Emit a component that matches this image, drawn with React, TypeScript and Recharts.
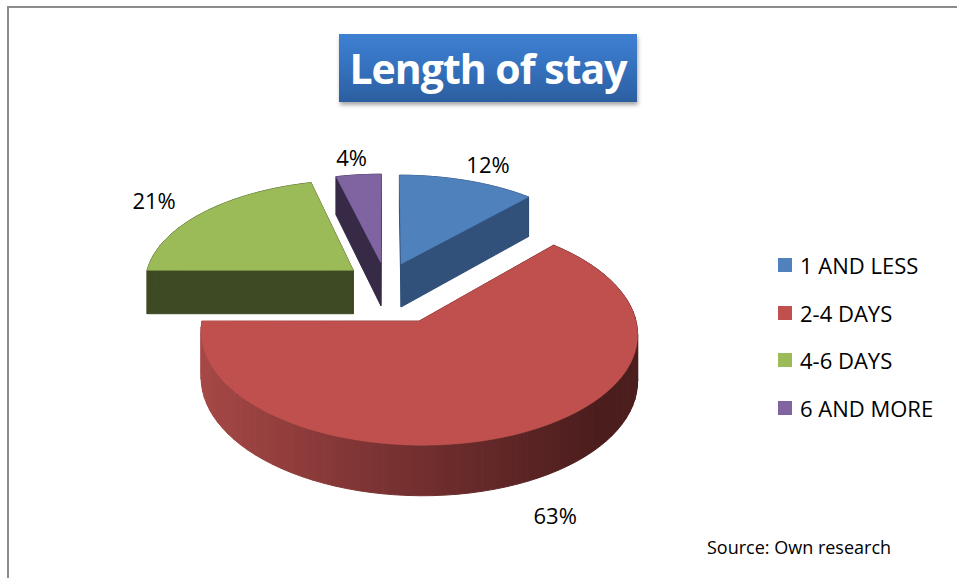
import React from 'react';
import { PieChart, Pie, Cell, Legend } from 'recharts';

const categories = ['1 AND LESS', '2-4 DAYS', '4-6 DAYS', '6 AND MORE'];
const shares = [12, 63, 21, 4];

const topColors = ['#4f81bd', '#c0504d', '#9bbb59', '#8064a2'];
const sideColors = ['#31507a', 'url(#redSide)', '#3e4a23', '#372a47'];
// how far each slice is pulled out of the pie
const explode = [42, 80, 42, 42];

const data = categories.map((name, i) => ({ name, value: shares[i] }));

const FONT = "'Open Sans', 'Noto Sans', sans-serif";
const K = 0.5; // vertical squash of the tilted disc
const PERSP = 0.11; // front looks a little bigger than the back
const DEPTH = 44;
const LABEL_GAP = 50;
const LABEL_STRETCH = 1.08;

type Pt = [number, number];

const project = (cx: number, cy: number, R: number, u: number, v: number, h: number): Pt => {
    const s = 1 + (PERSP * v) / R;
    return [cx + u * s, cy + v * K * s + h * s];
};

const wedge = (cx: number, cy: number, R: number, a0: number, a1: number, eu: number, ev: number, h: number) => {
    const pts: Pt[] = [project(cx, cy, R, eu, ev, h)];
    const n = Math.max(2, Math.ceil(Math.abs(a1 - a0) / 3));
    for (let i = 0; i <= n; i++) {
        const a = ((a0 + ((a1 - a0) * i) / n) * Math.PI) / 180;
        pts.push(project(cx, cy, R, eu + R * Math.cos(a), ev - R * Math.sin(a), h));
    }
    return pts;
};

const toPath = (pts: Pt[]) => 'M' + pts.map(p => `${p[0].toFixed(2)},${p[1].toFixed(2)}`).join('L') + 'Z';

const renderSlice = (props: any) => {
    const { cx, cy, outerRadius: R, startAngle, endAngle, midAngle, index, percent } = props;
    const m = (midAngle * Math.PI) / 180;
    const e = explode[index];
    const eu = e * Math.cos(m);
    const ev = -e * Math.sin(m);

    const top = wedge(cx, cy, R, startAngle, endAngle, eu, ev, 0);
    const bottom = wedge(cx, cy, R, startAngle, endAngle, eu, ev, DEPTH);
    const quads: string[] = [];
    for (let i = 0; i < top.length; i++) {
        const j = (i + 1) % top.length;
        quads.push(toPath([top[i], top[j], bottom[j], bottom[i]]));
    }

    // label position outside the slice
    const lr = R + e + LABEL_GAP;
    const lv = -lr * Math.sin(m);
    const [lx, ly] = project(cx, cy, R, lr * Math.cos(m) * LABEL_STRETCH, lv, lv > 0 ? DEPTH : 0);
    const side = sideColors[index];

    return (
        <g key={`slice-${index}`}>
            {index === 1 && (
                <defs>
                    <linearGradient id="redSide" gradientUnits="userSpaceOnUse" x1={cx - R * 0.9} y1={0} x2={cx + R} y2={0}>
                        <stop offset="0%" stopColor="#a64846" />
                        <stop offset="45%" stopColor="#7c3333" />
                        <stop offset="100%" stopColor="#4c1d1d" />
                    </linearGradient>
                </defs>
            )}
            {quads.map((d, j) => (
                <path key={j} d={d} fill={side} stroke={side} strokeWidth={1} strokeLinejoin="round" />
            ))}
            <path d={toPath(top)} fill={topColors[index]} stroke={topColors[index]} strokeWidth={0.5} />
            <text
                x={lx}
                y={ly}
                textAnchor="middle"
                dominantBaseline="central"
                fontFamily={FONT}
                fontSize={22}
                fill="#000"
            >
                {`${Math.round(percent * 100)}%`}
            </text>
        </g>
    );
};

const renderLegend = () => (
    <div style={{ fontFamily: FONT, fontSize: 22, color: '#000' }}>
        {categories.map((c, i) => (
            <div key={c} style={{ display: 'flex', alignItems: 'center', height: 47.7 }}>
                <span style={{ width: 14, height: 14, background: topColors[i], marginRight: 8, display: 'inline-block' }} />
                <span>{c}</span>
            </div>
        ))}
    </div>
);

const App: React.FC = () => {
    return (
        <div style={{ position: 'absolute', left: 0, top: 0, width: 957, height: 578, overflow: 'hidden', background: '#fff' }}>
            <div
                style={{
                    position: 'absolute',
                    left: 7,
                    top: 6,
                    width: 1000,
                    height: 700,
                    borderTop: '2px solid #8c8c8c',
                    borderLeft: '2px solid #8c8c8c',
                }}
            />
            <PieChart width={957} height={578} margin={{ top: 0, right: 0, bottom: 0, left: 0 }}>
                <Pie
                    data={data}
                    dataKey="value"
                    nameKey="name"
                    cx={386}
                    cy={283}
                    outerRadius={209}
                    startAngle={90}
                    endAngle={-270}
                    stroke="none"
                    label={renderSlice}
                    labelLine={false}
                    isAnimationActive={false}
                >
                    {data.map((d, i) => (
                        <Cell key={d.name} fill={topColors[i]} fillOpacity={0} />
                    ))}
                </Pie>
                <Legend
                    layout="vertical"
                    align="right"
                    verticalAlign="middle"
                    content={renderLegend}
                    wrapperStyle={{ left: 778, top: 241, width: 180, right: 'auto' }}
                />
            </PieChart>
            <div
                style={{
                    position: 'absolute',
                    left: 339,
                    top: 34,
                    width: 298,
                    height: 68,
                    background: 'linear-gradient(180deg, #3f80d2 0%, #3471bd 50%, #2c5e9f 100%)',
                    boxShadow: '1px 3px 4px rgba(0,0,0,0.35)',
                    color: '#fff',
                    fontFamily: FONT,
                    fontWeight: 700,
                    fontSize: 41,
                    letterSpacing: -1,
                    display: 'flex',
                    alignItems: 'center',
                    justifyContent: 'center',
                }}
            >
                Length of stay
            </div>
            <div style={{ position: 'absolute', left: 707, top: 535, fontFamily: FONT, fontSize: 18, color: '#000' }}>
                Source: Own research
            </div>
        </div>
    );
};

export default App;
